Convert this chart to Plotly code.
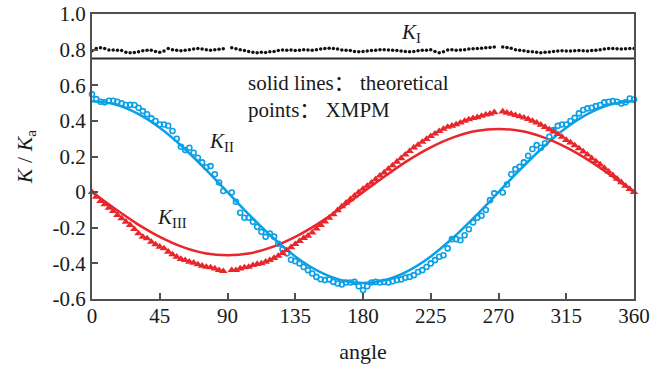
import plotly.graph_objects as go

# ---------------- data ----------------
angles = [i * 2.8125 for i in range(129)]  # measurement angles (deg)

k1_pts = [
    0.794, 0.807, 0.811, 0.807, 0.798, 0.798, 0.797, 0.795, 0.785, 0.783,
    0.784, 0.788, 0.793, 0.797, 0.797, 0.790, 0.785, 0.792, 0.806, 0.800,
    0.797, 0.794, 0.797, 0.800, 0.804, 0.806, 0.803, 0.800, 0.797, 0.800,
    0.802, 0.805, None, 0.811, 0.805, 0.800, 0.795, 0.790, 0.785, 0.783,
    0.785, 0.784, 0.788, 0.790, 0.795, 0.798, 0.796, 0.798, 0.795, 0.797,
    0.800, 0.798, 0.796, 0.800, 0.803, 0.806, 0.808, 0.807, 0.803, 0.798,
    0.797, 0.795, 0.790, 0.788, 0.790, 0.792, 0.795, 0.797, 0.800, 0.800,
    0.798, 0.797, 0.795, 0.792, 0.790, 0.788, 0.790, 0.793, 0.797, 0.797,
    0.800, 0.790, 0.783, 0.788, 0.798, 0.800, 0.797, 0.798, 0.800, 0.803,
    0.805, 0.807, 0.808, 0.810, 0.812, 0.815, None, 0.815, 0.812, 0.808,
    0.800, 0.797, 0.793, 0.790, 0.788, 0.785, 0.783, 0.785, 0.787, 0.790,
    0.792, 0.793, 0.792, 0.792, 0.793, 0.795, 0.793, 0.792, 0.795, 0.797,
    0.800, 0.803, 0.806, 0.807, 0.805, 0.803, 0.805, 0.807, 0.806,
]

k2_pts = [
    0.549, 0.522, 0.507, 0.504, 0.513, 0.513, 0.507, 0.498, 0.489, 0.490,
    0.489, 0.474, 0.455, 0.437, 0.414, 0.399, 0.380, 0.380, 0.373, 0.343,
    0.300, 0.255, 0.236, 0.249, 0.221, 0.193, 0.167, 0.140, 0.146, 0.100,
    0.054, 0.006, None, -0.002, -0.054, -0.116, -0.144, -0.144, -0.167, -0.195,
    -0.223, -0.251, -0.232, -0.250, -0.290, -0.320, -0.344, -0.380, -0.388, -0.400,
    -0.420, -0.438, -0.457, -0.476, -0.489, -0.494, -0.490, -0.504, -0.513, -0.519,
    -0.507, -0.507, -0.504, -0.528, -0.550, -0.528, -0.507, -0.504, -0.507, -0.504,
    -0.507, -0.500, -0.494, -0.490, -0.480, -0.476, -0.466, -0.448, -0.438, -0.420,
    -0.400, -0.382, -0.363, -0.354, -0.316, -0.264, -0.264, -0.270, -0.242, -0.208,
    -0.170, -0.144, -0.133, -0.100, -0.045, -0.007, None, -0.002, 0.043, 0.100,
    0.129, 0.142, 0.167, 0.204, 0.242, 0.264, 0.249, 0.274, 0.311, 0.348,
    0.372, 0.380, 0.380, 0.399, 0.417, 0.442, 0.461, 0.470, 0.474, 0.483,
    0.489, 0.504, 0.507, 0.511, 0.507, 0.498, 0.504, 0.526, 0.520,
]

k3_pts = [
    0.000, -0.026, -0.051, -0.069, -0.088, -0.107, -0.129, -0.148, -0.167, -0.185,
    -0.208, -0.232, -0.251, -0.260, -0.279, -0.294, -0.307, -0.316, -0.335, -0.350,
    -0.363, -0.376, -0.382, -0.391, -0.397, -0.406, -0.414, -0.420, -0.423, -0.429,
    -0.438, -0.444, None, -0.438, -0.438, -0.429, -0.423, -0.420, -0.410, -0.404,
    -0.400, -0.391, -0.382, -0.370, -0.358, -0.342, -0.326, -0.310, -0.292, -0.275,
    -0.258, -0.245, -0.228, -0.205, -0.185, -0.165, -0.145, -0.125, -0.102, -0.080,
    -0.060, -0.040, -0.020, 0.000, 0.018, 0.035, 0.052, 0.072, 0.092, 0.110,
    0.130, 0.150, 0.170, 0.190, 0.210, 0.230, 0.250, 0.265, 0.282, 0.298,
    0.314, 0.328, 0.342, 0.355, 0.366, 0.372, 0.380, 0.390, 0.400, 0.408,
    0.415, 0.420, 0.428, 0.435, 0.440, 0.448, None, 0.452, 0.445, 0.440,
    0.432, 0.425, 0.418, 0.410, 0.400, 0.390, 0.378, 0.365, 0.352, 0.340,
    0.325, 0.310, 0.292, 0.278, 0.262, 0.245, 0.228, 0.210, 0.190, 0.172,
    0.155, 0.135, 0.115, 0.095, 0.075, 0.055, 0.035, 0.017, 0.000,
]

theory_angles = [0, 15, 30, 45, 60, 75, 90, 105, 120, 135, 150, 165, 180,
                 195, 210, 225, 240, 255, 270, 285, 300, 315, 330, 345, 360]
k2_theory = [0.510, 0.493, 0.442, 0.361, 0.255, 0.132, 0.000, -0.132, -0.255,
             -0.361, -0.442, -0.493, -0.510, -0.493, -0.442, -0.361, -0.255,
             -0.132, 0.000, 0.132, 0.255, 0.361, 0.442, 0.493, 0.510]
k3_theory = [0.000, -0.092, -0.178, -0.251, -0.307, -0.343, -0.355, -0.343,
             -0.307, -0.251, -0.178, -0.092, 0.000, 0.092, 0.178, 0.251, 0.307,
             0.343, 0.355, 0.343, 0.307, 0.251, 0.178, 0.092, 0.000]

separator_value = 0.75

x_ticks = [0, 45, 90, 135, 180, 225, 270, 315, 360]
y_ticks = [-0.6, -0.4, -0.2, 0, 0.2, 0.4, 0.6, 0.8, 1.0]
y_ticktext = ["-0.6", "-0.4", "-0.2", "0", "0.2", "0.4", "0.6", "0.8", "1.0"]

# ---------------- styling ----------------
FONT = "Liberation Serif"
BLUE = "#0BA0E6"
RED = "#E8262B"
AXIS = "#505050"
TXT = "#1a1a1a"
COLON = '<span style="font-family:\'Noto Sans CJK SC\'">\uff1a</span>'

fig = go.Figure()

fig.add_trace(go.Scatter(x=theory_angles, y=k2_theory, mode="lines",
                         line=dict(color=BLUE, width=2.5, shape="spline"),
                         hoverinfo="skip"))
fig.add_trace(go.Scatter(x=theory_angles, y=k3_theory, mode="lines",
                         line=dict(color=RED, width=2.5, shape="spline"),
                         hoverinfo="skip"))

fig.add_trace(go.Scatter(x=angles, y=k1_pts, mode="markers", cliponaxis=False,
                         marker=dict(symbol="circle", size=3.5, color="#111111")))
fig.add_trace(go.Scatter(x=angles, y=k2_pts, mode="markers", cliponaxis=False,
                         marker=dict(symbol="circle-open", size=5, color=BLUE,
                                     line=dict(width=1.6, color=BLUE))))
fig.add_trace(go.Scatter(x=angles, y=k3_pts, mode="markers", cliponaxis=False,
                         marker=dict(symbol="triangle-up", size=7.5, color=RED,
                                     line=dict(width=0))))

fig.add_shape(type="line", xref="x domain", yref="y", x0=0, x1=1,
              y0=separator_value, y1=separator_value,
              line=dict(color="#2a2a2a", width=2))

ann_font = dict(family=FONT, size=21, color=TXT)
fig.add_annotation(x=212, y=0.893, text="<i>K</i><sub>I</sub>", showarrow=False,
                   font=ann_font)
fig.add_annotation(x=86, y=0.281, text="<i>K</i><sub>II</sub>", showarrow=False,
                   font=ann_font)
fig.add_annotation(x=53, y=-0.146, text="<i>K</i><sub>III</sub>", showarrow=False,
                   font=ann_font)
fig.add_annotation(x=102, y=0.622, xanchor="left",
                   text="solid lines" + COLON + " theoretical", showarrow=False,
                   font=ann_font)
fig.add_annotation(x=102, y=0.474, xanchor="left",
                   text="points" + COLON + " XMPM", showarrow=False, font=ann_font)

axis_common = dict(
    showline=True, linecolor=AXIS, linewidth=2, mirror=True,
    ticks="inside", ticklen=6, tickwidth=2, tickcolor=AXIS,
    showgrid=False, zeroline=False, automargin=False,
    tickfont=dict(family=FONT, size=21, color=TXT),
)

fig.update_layout(
    width=651, height=370,
    margin=dict(l=92, r=17, t=14, b=71),
    paper_bgcolor="white", plot_bgcolor="white",
    showlegend=False,
    font=dict(family=FONT, color=TXT),
    xaxis=dict(range=[0, 360], tickvals=x_ticks, ticklabelstandoff=-3,
               title=dict(text="angle", font=dict(family=FONT, size=22, color=TXT),
                          standoff=16),
               **axis_common),
    yaxis=dict(range=[-0.6, 1.0], tickvals=y_ticks, ticktext=y_ticktext,
               title=dict(text="<i>K</i> / <i>K</i><sub>a</sub>",
                          font=dict(family=FONT, size=22, color=TXT),
                          standoff=14),
               **axis_common),
)

fig.write_html("out.html")
